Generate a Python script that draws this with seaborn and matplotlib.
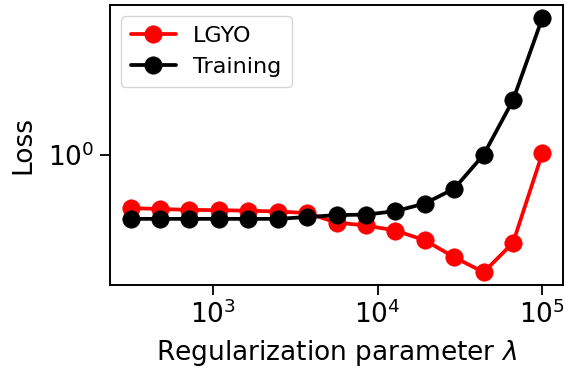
import pandas as pd
import matplotlib
matplotlib.use("Agg")
import matplotlib.pyplot as plt
import seaborn as sns

# Data
lambdas = [316.2, 477.0, 719.7, 1085.8, 1637.9, 2471.0, 3728.0, 5623.0,
           8483.0, 12797.0, 19307.0, 29126.0, 43940.0, 66289.0, 100000.0]
lgyo_loss = [0.540, 0.534, 0.529, 0.527, 0.524, 0.519, 0.510, 0.457, 0.442,
             0.417, 0.373, 0.307, 0.258, 0.362, 1.017]
train_loss = [0.477, 0.477, 0.477, 0.477, 0.477, 0.477, 0.487, 0.498, 0.501,
              0.521, 0.569, 0.675, 0.997, 1.868, 4.826]
series_names = ["LGYO", "Training"]
colors = {"LGYO": "#ff0000", "Training": "#000000"}

df = pd.DataFrame({
    "lam": lambdas * 2,
    "loss": lgyo_loss + train_loss,
    "series": [series_names[0]] * len(lambdas) + [series_names[1]] * len(lambdas),
})

sns.set_style("ticks", rc={"text.color": "black", "axes.labelcolor": "black",
                           "xtick.color": "black", "ytick.color": "black",
                           "axes.edgecolor": "black"})
plt.rcParams["font.family"] = ["DejaVu Sans"]

fig, ax = plt.subplots(figsize=(5.65, 3.72), dpi=100)
fig.subplots_adjust(left=0.1947, right=0.9965, top=0.9866, bottom=0.2339)

sns.lineplot(data=df, x="lam", y="loss", hue="series", hue_order=series_names,
             palette=colors, marker="o", markersize=12.5, linewidth=2.7,
             legend=False, ax=ax)
for line in ax.lines:
    line.set_markeredgecolor(line.get_color())
    line.set_markeredgewidth(0.5)

ax.set_xscale("log")
ax.set_yscale("log")
ax.minorticks_off()

ax.set_xlabel(r"Regularization parameter $\lambda$", fontsize=19, labelpad=7)
ax.set_ylabel("Loss", fontsize=19, labelpad=9)
ax.tick_params(axis="both", which="major", labelsize=19, length=7, width=1.3,
               pad=4, direction="out", color="black", labelcolor="black")
for s in ax.spines.values():
    s.set_linewidth(1.4)
    s.set_color("black")

ax.legend(ax.lines, series_names, loc="upper left", fontsize=16,
          frameon=True, framealpha=0.8, edgecolor="#cccccc",
          borderpad=0.45, handlelength=2.0)

fig.savefig("out.png", dpi=100)
